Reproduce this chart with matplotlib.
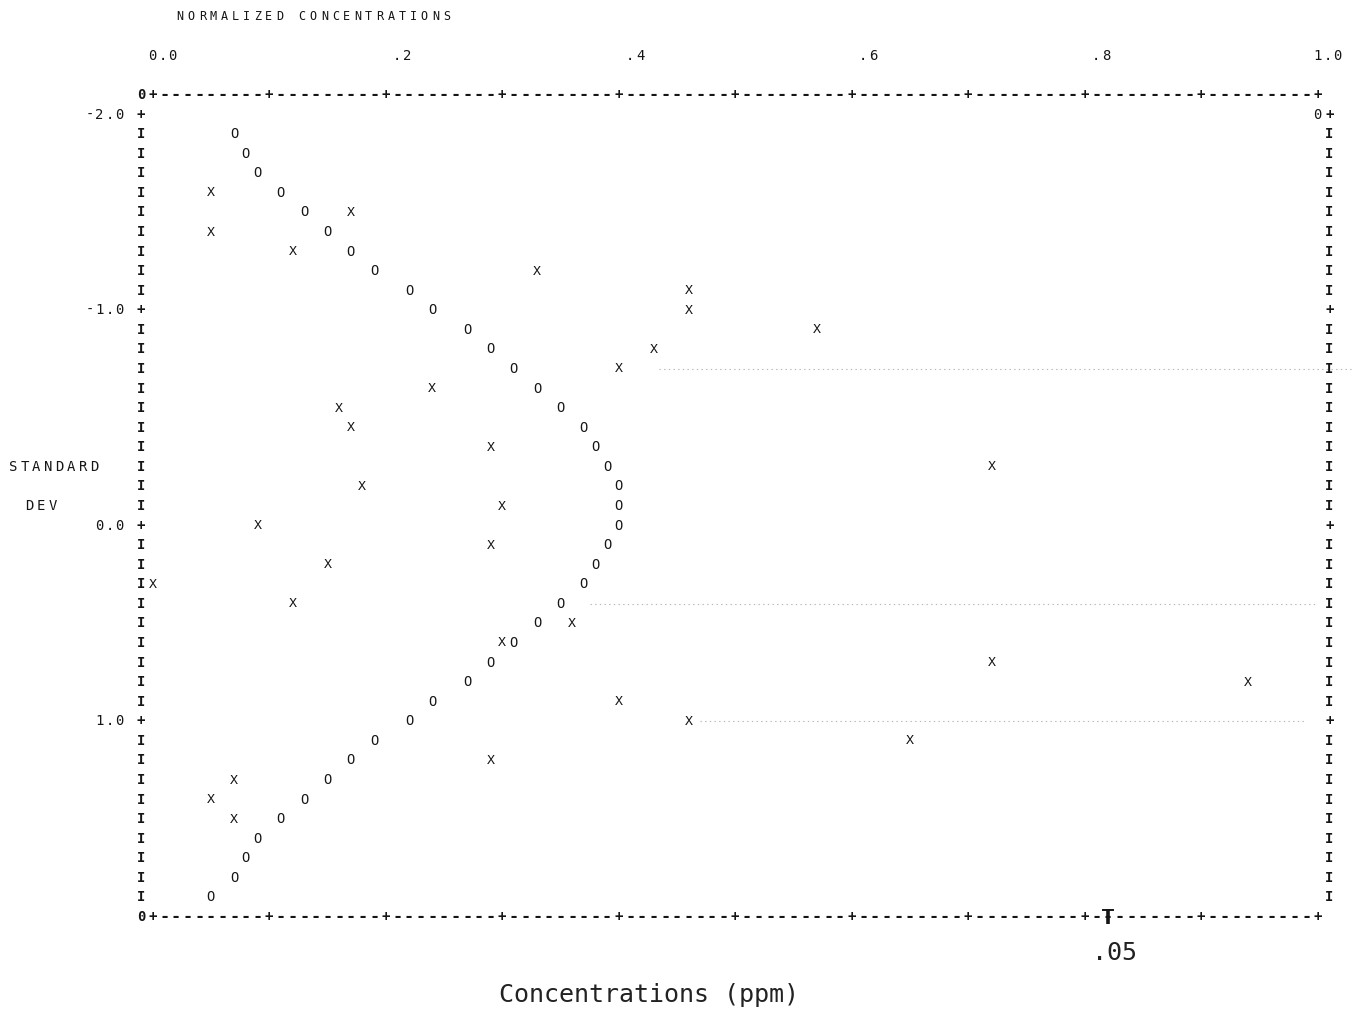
import matplotlib
matplotlib.use("Agg")
import matplotlib.pyplot as plt

# ---------------------------------------------------------------
# Data: normalized concentration for each printer row
# (row 0 = top frame line, row 42 = bottom frame line)
# ---------------------------------------------------------------
o_rows = [2, 3, 4, 5, 6, 7, 8, 9, 10, 11, 12, 13, 14, 15, 16, 17, 18, 19, 20, 21,
          22, 23, 24, 25, 26, 27, 28, 29, 30, 31, 32, 33, 34, 35, 36, 37, 38, 39, 40, 41]
o_vals = [.07, .08, .09, .11, .13, .15, .17, .19, .22, .24, .27, .29, .31, .33, .35, .37,
          .38, .39, .40, .40, .40, .39, .38, .37, .35, .33, .31, .29, .27, .24, .22, .19,
          .17, .15, .13, .11, .09, .08, .07, .05]

x_rows = [5, 6, 7, 8, 9, 10, 11, 12, 13, 14, 15, 16, 17, 18, 19, 20, 21, 22, 23, 24,
          25, 26, 27, 28, 29, 30, 31, 32, 33, 34, 35, 36, 37]
x_vals = [.05, .17, .05, .12, .33, .46, .46, .57, .43, .40, .24, .16, .17, .29, .72, .18,
          .30, .09, .29, .15, .00, .12, .36, .30, .72, .94, .40, .46, .65, .29, .07, .05, .07]

x_tick_vals = [0.0, 0.2, 0.4, 0.6, 0.8, 1.0]
x_tick_text = ["0.0", ".2", ".4", ".6", ".8", "1.0"]
y_tick_rows = [1, 11, 22, 32]
y_tick_text = ["-2.0", "-1.0", "0.0", "1.0"]

title_text = "NORMALIZED CONCENTRATIONS"
ylabel_lines = ["STANDARD", "DEV"]
ppm_value = 0.82          # position of .05 ppm on the normalized scale
ppm_text = ".05"
xlabel_text = "Concentrations (ppm)"

N_ROWS = 42               # bottom frame row
N_COLS = 102              # right frame column

PRN = "DejaVu Sans Mono"
INK = "#151515"


def col2x(a):
    """Printer column -> normalized value (column 1 is 0.0, column 101 is 1.0)."""
    return (a - 1) / 100.0


def x2col(v):
    return int(round(1 + 100 * v))


fig = plt.figure(figsize=(13.58, 10.13), dpi=100)
W, H = 1358.0, 1013.0
left_px, right_px = 141.0, 1329.3
top_px, bot_px = 95.0, 917.0
ax = fig.add_axes([left_px / W, 1 - bot_px / H, (right_px - left_px) / W, (bot_px - top_px) / H])
ax.set_xlim(col2x(0), col2x(N_COLS))
ax.set_ylim(N_ROWS, 0)
ax.axis("off")


def put(a, row, s, size=10, weight="normal", step=1.0, color=INK, family=PRN):
    """Print a string one character per column, starting at column a."""
    for i, ch in enumerate(s):
        if ch != " ":
            ax.text(col2x(a + i * step), row, ch, ha="center", va="center",
                    fontsize=size, fontweight=weight, color=color,
                    family=family, clip_on=False)


# faint ghost rulings carried over from the paper
for r, v0, v1 in [(14, 0.435, 1.03), (26, 0.375, 1.0), (32, 0.47, 0.99)]:
    ax.plot([v0, v1], [r, r], color="#b5b5b5", lw=0.8, ls=(0, (1.2, 3.0)),
            clip_on=False)

# ---- frame: top and bottom rulings ----
for r in (0, N_ROWS):
    put(0, r, "0", weight="bold")
    for a in range(1, 102):
        if (a - 1) % 10 == 0:
            put(a, r, "+", weight="bold")
        else:
            put(a, r, "-", size=12, weight="bold")

# ---- frame: left and right borders ----
for r in range(1, N_ROWS):
    ch = "+" if r in y_tick_rows else "I"
    put(0, r, ch, weight="bold")
    put(N_COLS, r, ch, weight="bold")
put(N_COLS - 1, 1, "0")

# ---- axis annotation ----
for v, t in zip(x_tick_vals, x_tick_text):
    put(x2col(v) + 3 - len(t), -2, t, step=0.85)
for r, t in zip(y_tick_rows, y_tick_text):
    put(-1 - 0.85 * len(t), r, t, step=0.85)

put(3.35, -4, title_text, size=8.5, step=0.953)
put(-11, 19, ylabel_lines[0])
put(-9.6, 21, ylabel_lines[1])

# ---- plotted points ----
for r, v in zip(o_rows, o_vals):
    ax.text(v, r, "O", ha="center", va="center", fontsize=10, color=INK,
            family=PRN, clip_on=False)
for r, v in zip(x_rows, x_vals):
    ax.text(v, r, "X", ha="center", va="center", fontsize=9.5, color=INK,
            family=PRN, clip_on=False)

# ---- hand-added concentration marker ----
ax.plot([ppm_value, ppm_value], [41.6, 42.35], color=INK, lw=2.6, solid_capstyle="butt",
        clip_on=False)
ax.plot([ppm_value - 0.004, ppm_value + 0.004], [41.65, 41.65], color=INK, lw=1.4,
        clip_on=False)
ax.text(ppm_value + 0.006, 43.85, ppm_text, ha="center", va="center", fontsize=18,
        color="#222222", family=PRN, clip_on=False)
ax.text(0.426, 46.0, xlabel_text, ha="center", va="center", fontsize=18,
        color="#222222", family=PRN, clip_on=False)

fig.savefig("out.png", dpi=100, facecolor="white")
